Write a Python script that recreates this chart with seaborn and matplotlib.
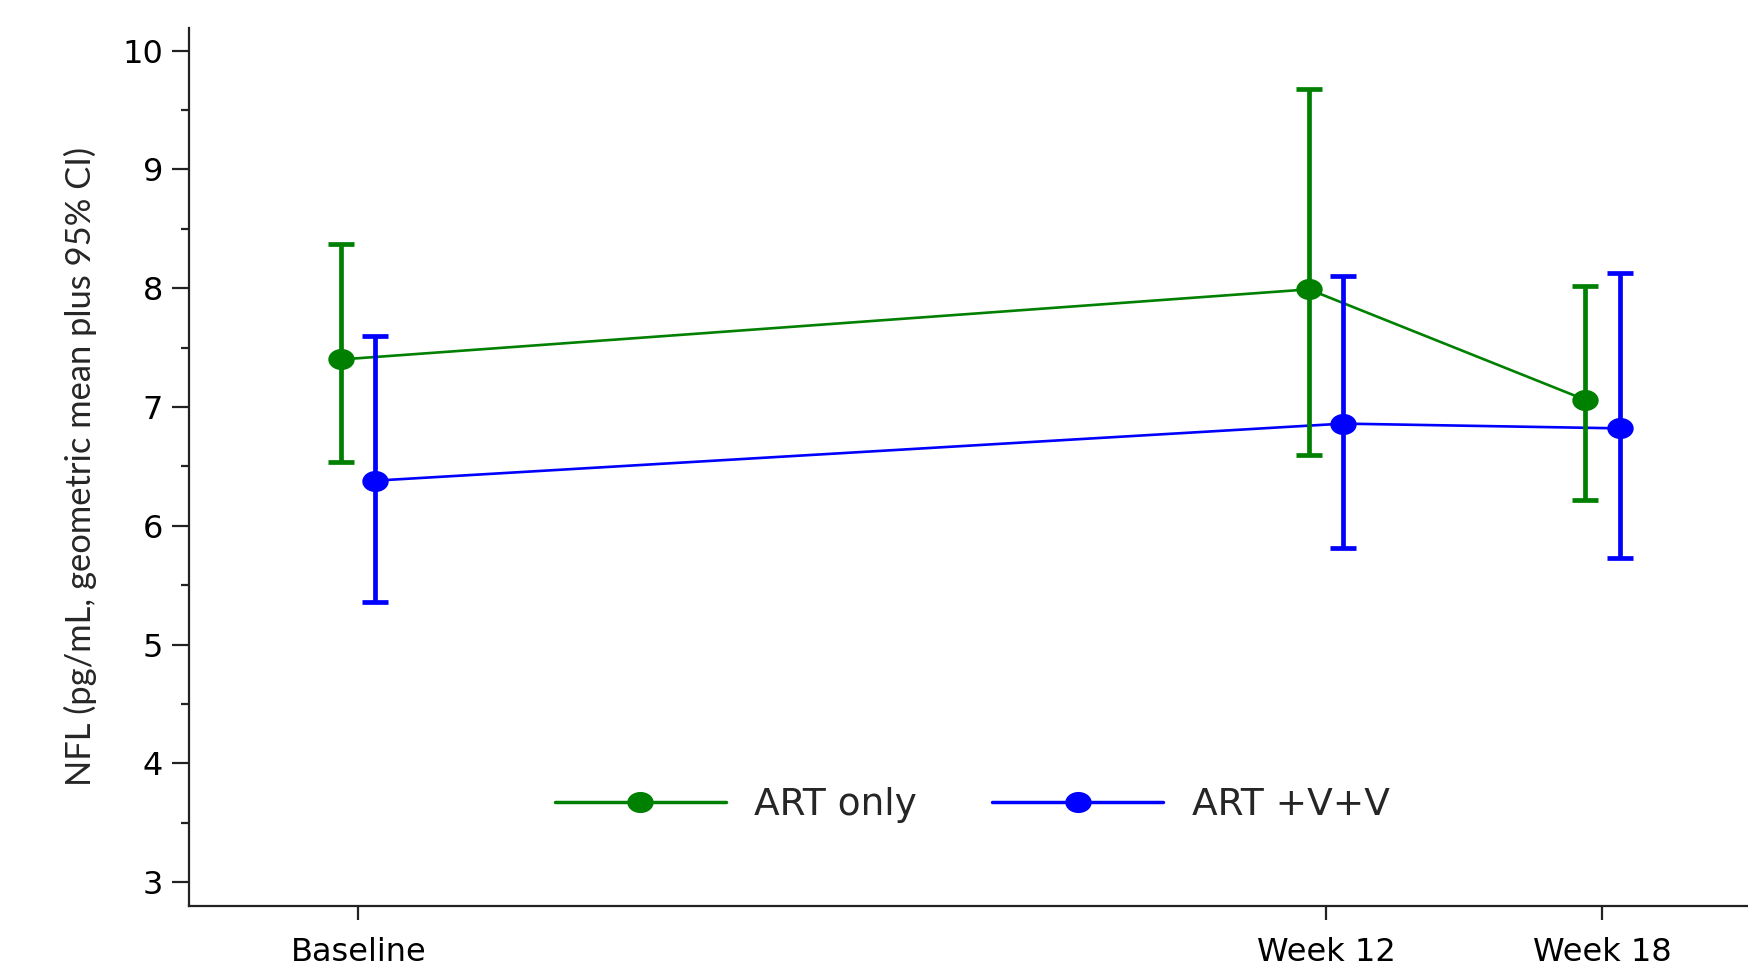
import numpy as np
import pandas as pd
import matplotlib
matplotlib.use("Agg")
import matplotlib.pyplot as plt
from matplotlib.path import Path
from matplotlib.lines import Line2D
from matplotlib.ticker import MultipleLocator
import seaborn as sns

# Visits and their positions on the time axis
visits = ["Baseline", "Week 12", "Week 18"]
visit_pos = [0.0, 3.5, 4.5]

groups = ["ART only", "ART +V+V"]

# Geometric mean NFL and 95% CI per group
art_mean = [7.40, 7.99, 7.06]
art_lo = [6.54, 6.60, 6.22]
art_hi = [8.37, 9.68, 8.02]

vv_mean = [6.38, 6.86, 6.82]
vv_lo = [5.36, 5.81, 5.73]
vv_hi = [7.60, 8.10, 8.13]

colors = {"ART only": "#008000", "ART +V+V": "#0000ff"}
dodge = {"ART only": -0.062, "ART +V+V": 0.062}

sns.set_theme(style="ticks")
plt.rcParams["font.family"] = ["DejaVu Sans"]

df = pd.DataFrame({
    "group": np.repeat(groups, len(visits)),
    "visit": visits * 2,
    "pos": visit_pos * 2,
    "mean": art_mean + vv_mean,
    "lo": art_lo + vv_lo,
    "hi": art_hi + vv_hi,
})
df["x"] = df["pos"] + df["group"].map(dodge)

# slightly wide elliptical marker
circ = Path.unit_circle()
ellipse = Path(circ.vertices * np.array([1.0, 0.8]), circ.codes)

fig = plt.figure(figsize=(17.49, 9.75), dpi=100)
ax = fig.add_axes([0.1083, 0.0708, 0.8917, 0.9005])

sns.lineplot(data=df, x="x", y="mean", hue="group", palette=colors,
             hue_order=groups, linewidth=1.9, legend=False, ax=ax,
             sort=True, zorder=2)

for g in groups:
    sub = df[df["group"] == g]
    ax.errorbar(sub["x"], sub["mean"],
                yerr=[sub["mean"] - sub["lo"], sub["hi"] - sub["mean"]],
                fmt="none", ecolor=colors[g], elinewidth=3.4, capsize=9.5,
                capthick=3.4, zorder=3)
    ax.plot(sub["x"], sub["mean"], linestyle="none", marker=ellipse,
            markersize=19, color=colors[g], markeredgewidth=0, zorder=4)

ax.set_xlim(-0.611, 5.03)
ax.set_ylim(2.80, 10.19)
ax.set_xticks(visit_pos)
ax.set_xticklabels(visits)
ax.yaxis.set_major_locator(MultipleLocator(1))
ax.yaxis.set_minor_locator(MultipleLocator(0.5))

ax.tick_params(axis="x", length=10, width=1.6, pad=12, labelsize=23,
               colors="#222222", labelcolor="black")
ax.tick_params(axis="y", which="major", length=12, width=1.6, pad=7,
               labelsize=23, colors="#222222", labelcolor="black")
ax.tick_params(axis="y", which="minor", length=6, width=1.6,
               colors="#222222")

sns.despine(ax=ax)
for side in ("left", "bottom"):
    ax.spines[side].set_linewidth(1.6)
    ax.spines[side].set_color("#222222")

ax.set_xlabel("")
ax.set_ylabel("NFL (pg/mL, geometric mean plus 95% CI)", fontsize=24.8,
              family=["Lato", "DejaVu Sans"], labelpad=18)

handles = [Line2D([], [], color=colors[g], linewidth=2.5, marker=ellipse,
                  markersize=19, markeredgewidth=0) for g in groups]
ax.legend(handles, groups, loc="center", bbox_to_anchor=(0.502, 0.115),
          ncol=2, frameon=False, fontsize=27, handlelength=4.56,
          handletextpad=0.77, columnspacing=2.0)

fig.savefig("out.png", dpi=100)
